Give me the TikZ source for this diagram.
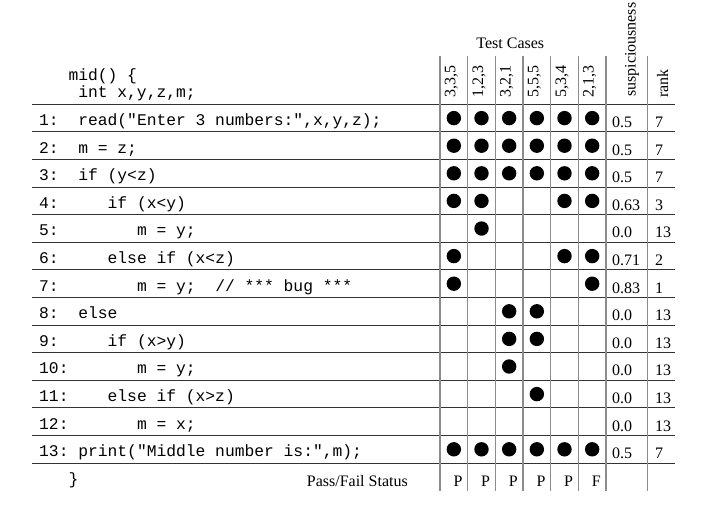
\documentclass[tikz,border=0pt]{standalone}
\usepackage{fontspec}
\setmainfont{Liberation Serif}
\newfontfamily\codefont{Liberation Mono}
\tikzset{
  hrule/.style={draw=black!80, line width=0.9pt},
  vrule/.style={draw=black!45, line width=1.3pt},
  code/.style={font=\codefont\fontsize{16.3}{18}\selectfont, anchor=base west, inner sep=0pt},
  serif/.style={font=\fontsize{16}{18}\selectfont, inner sep=0pt},
  collabel/.style={serif, rotate=90, anchor=base west},
  hit/.style={circle, fill=black, minimum size=14.4pt, inner sep=0pt},
  numtext/.style={serif, anchor=base west},
  pf/.style={serif, anchor=base east}
}
\begin{document}
\begin{tikzpicture}[x=1pt,y=-1pt]
\useasboundingbox (0,0) rectangle (712,520);

% horizontal rules
\foreach \k in {0,...,13}
  \draw[hrule] (32,{104.3+27.6*\k}) -- (675,{104.3+27.6*\k});
% vertical rules
\foreach \xx in {440,467.67,495.33,523,550.67,578.33,606,647.3}
  \draw[vrule] (\xx,56) -- (\xx,491);

% header
\node[serif, anchor=base] (tc) at (510.3,48.3) {Test Cases};
\node[collabel] (h1) at (455.3,98) {3,3,5};
\node[collabel] (h2) at (483.0,98) {1,2,3};
\node[collabel] (h3) at (510.7,98) {3,2,1};
\node[collabel] (h4) at (538.3,98) {5,5,5};
\node[collabel] (h5) at (566.0,98) {5,3,4};
\node[collabel] (h6) at (593.7,98) {2,1,3};
\node[collabel] (hs) at (635.5,97) {suspiciousness};
\node[collabel] (hr) at (668,98) {rank};

\node[code] (mid) at (68.3,80) {mid()~\{};
\node[code] (decl) at (78.1,97.7) {int~x,y,z,m;};

% code lines
\node[code] (l1) at (39,125.4) {1:~~read("Enter~3~numbers:",x,y,z);};
\node[code] (l2) at (39,153.0) {2:~~m~=~z;};
\node[code] (l3) at (39,180.6) {3:~~if~(y<z)};
\node[code] (l4) at (39,208.2) {4:~~~~~if~(x<y)};
\node[code] (l5) at (39,235.8) {5:~~~~~~~~m~=~y;};
\node[code] (l6) at (39,263.4) {6:~~~~~else~if~(x<z)};
\node[code] (l7) at (39,291.0) {7:~~~~~~~~m~=~y;~~//~***~bug~***};
\node[code] (l8) at (39,318.6) {8:~~else};
\node[code] (l9) at (39,346.2) {9:~~~~~if~(x>y)};
\node[code] (l10) at (39,373.8) {10:~~~~~~~m~=~y;};
\node[code] (l11) at (39,401.4) {11:~~~~else~if~(x>z)};
\node[code] (l12) at (39,429.0) {12:~~~~~~~m~=~x;};
\node[code] (l13) at (39,456.6) {13:~print("Middle~number~is:",m);};
\node[code] (close) at (68.3,484.5) {\}};
\node[pf] (pfs) at (408,486.7) {Pass/Fail Status};

% coverage dots: row / list of columns
\foreach \r/\cols in {1/{1,2,3,4,5,6},2/{1,2,3,4,5,6},3/{1,2,3,4,5,6},4/{1,2,5,6},5/{2},6/{1,5,6},7/{1,6},8/{3,4},9/{3,4},10/{3},11/{4},13/{1,2,3,4,5,6}}
  \foreach \c in \cols
    \node[hit] (d\r-\c) at ({440+27.667*(\c-0.5)},{104.3+27.6*(\r-1)+13.8}) {};

% suspiciousness and rank
\foreach \r/\s/\k in {1/0.5/7,2/0.5/7,3/0.5/7,4/0.63/3,5/0.0/13,6/0.71/2,7/0.83/1,8/0.0/13,9/0.0/13,10/0.0/13,11/0.0/13,12/0.0/13,13/0.5/7}{
  \node[numtext] (s\r) at (612,{104.3+27.6*\r-4.5}) {\s};
  \node[numtext] (k\r) at (655,{104.3+27.6*\r-4.5}) {\k};
}

% pass / fail
\foreach \c/\v in {1/P,2/P,3/P,4/P,5/P,6/F}
  \node[pf] (pf\c) at ({440+27.667*\c-5},486.7) {\v};
\end{tikzpicture}
\end{document}
